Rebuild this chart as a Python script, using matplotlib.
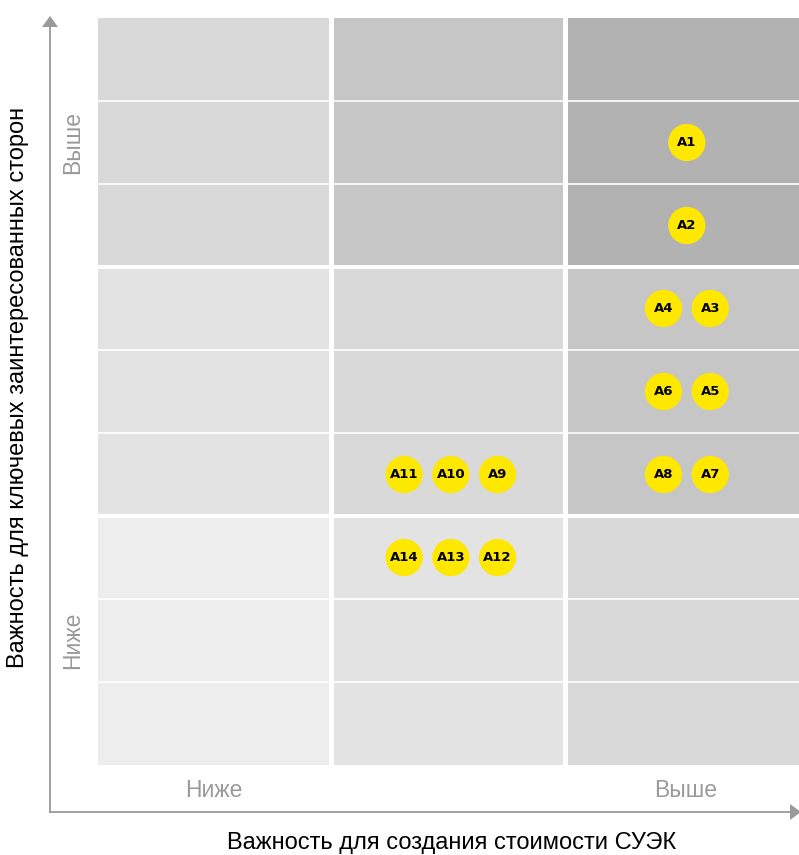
import numpy as np
import matplotlib
matplotlib.use('Agg')
import matplotlib.pyplot as plt
from matplotlib.patches import Rectangle, Polygon

plt.rcParams['font.family'] = ['Liberation Sans', 'DejaVu Sans']

# data: block shade level (rows top -> bottom, cols left -> right)
shade_levels = [[2, 3, 4],
                [1, 2, 3],
                [0, 1, 2]]
shades = ['#ededed', '#e3e3e3', '#d9d9d9', '#c6c6c6', '#b2b2b2']

labels = ['A1', 'A2', 'A3', 'A4', 'A5', 'A6', 'A7', 'A8',
          'A9', 'A10', 'A11', 'A12', 'A13', 'A14']
xs = [2.52, 2.52, 2.62, 2.42, 2.62, 2.42, 2.62, 2.42,
      1.71, 1.51, 1.31, 1.71, 1.51, 1.31]
ys = [7.5, 6.5, 5.5, 5.5, 4.5, 4.5, 3.5, 3.5,
      3.5, 3.5, 3.5, 2.5, 2.5, 2.5]

x_ticks = ['Ниже', 'Выше']
y_ticks = ['Ниже', 'Выше']
x_title = 'Важность для создания стоимости СУЭК'
y_title = 'Важность для ключевых заинтересованных сторон'

W, H = 799, 855
fig = plt.figure(figsize=(W / 100, H / 100), dpi=100)

# overlay for axes arrows and titles, pixel coordinates
deco = fig.add_axes([0, 0, 1, 1])
deco.set_xlim(0, W)
deco.set_ylim(H, 0)
deco.axis('off')

axis_col = '#9a9a9a'
deco.plot([50, 50], [26, 812], color=axis_col, lw=1.3)
deco.plot([50, 792], [812, 812], color=axis_col, lw=1.3)
deco.add_patch(Polygon([[42, 27], [58, 27], [50, 16]], closed=True,
                       color=axis_col, lw=0))
deco.add_patch(Polygon([[790, 804], [790, 820], [801, 812]], closed=True,
                       color=axis_col, lw=0))

deco.text(214, 790, x_ticks[0], ha='center', va='center', fontsize=16.5,
          color=axis_col)
deco.text(686, 790, x_ticks[1], ha='center', va='center', fontsize=16.5,
          color=axis_col)
deco.text(73, 640, y_ticks[0], ha='center', va='center', fontsize=16.5,
          color=axis_col, rotation=90)
deco.text(73, 142, y_ticks[1], ha='center', va='center', fontsize=16.5,
          color=axis_col, rotation=90)
deco.text(452, 843, x_title, ha='center', va='center', fontsize=17,
          color='black')
deco.text(18, 387, y_title, ha='center', va='center', fontsize=17,
          color='black', rotation=90)

# matrix
ax = fig.add_axes([98 / W, 1 - 765 / H, 701 / W, 747 / H])
ax.set_xlim(0, 3)
ax.set_ylim(0, 9)
ax.axis('off')

gx = 0.0095
gy = 0.024
for r in range(3):
    for c in range(3):
        x0 = c + (gx if c > 0 else 0)
        x1 = c + 1 - (gx if c < 2 else 0)
        yb = (2 - r) * 3
        y0 = yb + (gy if yb > 0 else 0)
        y1 = yb + 3 - (gy if yb < 6 else 0)
        ax.add_patch(Rectangle((x0, y0), x1 - x0, y1 - y0,
                               color=shades[shade_levels[r][c]], lw=0))

for yl in [1, 2, 4, 5, 7, 8]:
    ax.axhline(yl, color='white', lw=1.2)

ax.scatter(xs, ys, s=720, color='#ffe800', edgecolors='none', zorder=3)
for lab, x, y in zip(labels, xs, ys):
    ax.text(x, y, lab, ha='center', va='center', fontsize=9.5,
            fontweight='bold', family='DejaVu Sans', color='black', zorder=4)

fig.savefig('out.png', dpi=100)
